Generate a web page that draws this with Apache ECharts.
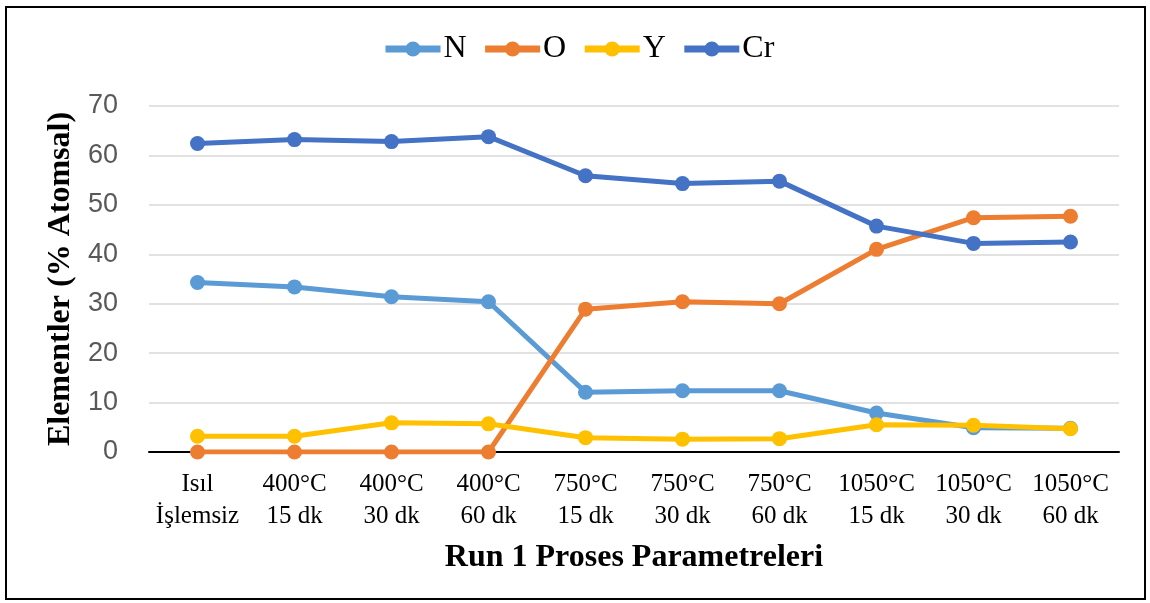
<!DOCTYPE html>
<html><head><meta charset="utf-8">
<script src="https://cdn.jsdelivr.net/npm/echarts@6/dist/echarts.min.js"></script>
<style>html,body{margin:0;padding:0;background:#fff}#c{width:1150px;height:603px}</style>
</head><body><div id="c"></div>
<script>
const categories = ['Isıl\nİşlemsiz','400°C\n15 dk','400°C\n30 dk','400°C\n60 dk','750°C\n15 dk','750°C\n30 dk','750°C\n60 dk','1050°C\n15 dk','1050°C\n30 dk','1050°C\n60 dk'];
const seriesNames = ['N','O','Y','Cr'];
const nValues  = [34.3, 33.4, 31.4, 30.4, 12.1, 12.4, 12.4, 7.9, 4.9, 4.8];
const oValues  = [0, 0, 0, 0, 28.9, 30.4, 30.0, 41.0, 47.4, 47.7];
const yValues  = [3.2, 3.2, 5.9, 5.7, 2.9, 2.6, 2.7, 5.5, 5.4, 4.7];
const crValues = [62.4, 63.2, 62.8, 63.8, 55.9, 54.3, 54.8, 45.7, 42.2, 42.5];
const yTicks = [0, 70, 10];
const colors = ['#5B9BD5','#ED7D31','#FFC000','#4472C4'];
const allValues = [nValues, oValues, yValues, crValues];

const chart = echarts.init(document.getElementById('c'), null, {renderer:'canvas'});
chart.setOption({
  animation:false,
  color: colors,
  graphic:[{type:'rect', shape:{x:6,y:7,width:1139,height:592}, style:{fill:'none', stroke:'#000', lineWidth:2}, silent:true}],
  legend:{
    top:28, left:377, itemWidth:55, itemHeight:19, itemGap:15,
    lineStyle:{width:7},
    textStyle:{fontFamily:'Liberation Serif', fontSize:32, color:'#000', padding:[0,0,0,-2]},
    data: seriesNames
  },
  grid:{left:149, right:31, top:106, bottom:151, containLabel:false},
  xAxis:{
    type:'category', data:categories, boundaryGap:true,
    axisLine:{lineStyle:{color:'#000', width:2}},
    axisTick:{show:false},
    axisLabel:{fontFamily:'Liberation Serif', fontSize:25, color:'#000', lineHeight:32, margin:16, interval:0},
    name:'Run 1 Proses Parametreleri', nameLocation:'middle', nameGap:90,
    nameTextStyle:{fontFamily:'Liberation Serif', fontSize:32, fontWeight:'bold', color:'#000'}
  },
  yAxis:{
    type:'value', min:yTicks[0], max:yTicks[1], interval:yTicks[2],
    axisLine:{show:false}, axisTick:{show:false},
    splitLine:{lineStyle:{color:'#d9d9d9', width:1.5}},
    axisLabel:{fontFamily:'Liberation Sans', fontSize:27, color:'#595959', margin:31},
    name:'Elementler (% Atomsal)', nameLocation:'middle', nameGap:71,
    nameTextStyle:{fontFamily:'Liberation Serif', fontSize:32, fontWeight:'bold', color:'#000'}
  },
  series: seriesNames.map((n,i)=>({
    name:n, type:'line', data:allValues[i],
    symbol:'circle', symbolSize:15,
    lineStyle:{width:5, color:colors[i]},
    itemStyle:{color:colors[i]},
    z: 2+i
  }))
});
</script></body></html>
